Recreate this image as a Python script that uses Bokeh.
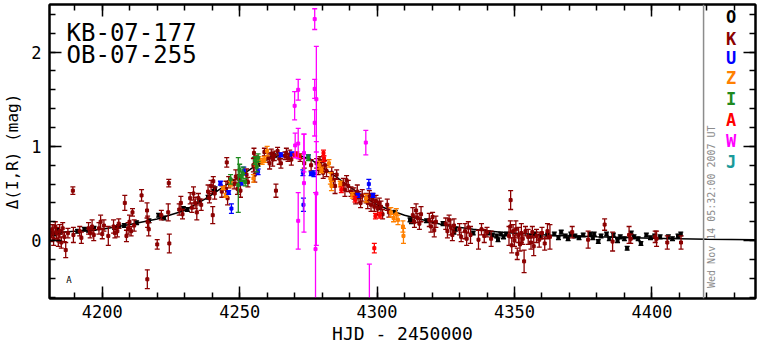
import math
from bokeh.plotting import figure
from bokeh.models import LinearAxis, SingleIntervalTicker, Span, Label, Range1d, CustomLabelingPolicy
from bokeh.core.properties import value
from bokeh.embed import file_html
from bokeh.resources import INLINE

# ---------------- data (HJD-2450000, delta mag, error) ----------------
model_t = [4181, 4190, 4200, 4210, 4220, 4230, 4238, 4245, 4250, 4255, 4260, 4264, 4268,
           4272, 4276, 4280, 4285, 4290, 4295, 4300, 4305, 4310, 4318, 4325, 4335, 4345,
           4355, 4365, 4380, 4400, 4420, 4438]
model_m = [0.08, 0.10, 0.12, 0.17, 0.23, 0.32, 0.45, 0.59, 0.68, 0.78, 0.86, 0.90, 0.915,
           0.90, 0.86, 0.78, 0.68, 0.57, 0.47, 0.38, 0.32, 0.27, 0.21, 0.16, 0.12, 0.09,
           0.07, 0.055, 0.04, 0.025, 0.015, 0.01]

k_t = [4181.2, 4181.8, 4182.3, 4182.9, 4183.4, 4184.0, 4184.5, 4185.1, 4185.6, 4186.2, 4186.7, 4187.5,
       4189.3, 4189.5, 4191.8, 4192.4, 4195.0, 4195.6, 4196.3, 4196.9, 4198.8, 4199.4, 4200.0, 4200.6,
       4202.2, 4204.1, 4204.6, 4205.5, 4206.0, 4208.2, 4208.8, 4209.4, 4209.9, 4210.5, 4211.0, 4211.6,
       4214.3, 4216.3, 4216.5, 4216.4, 4216.9, 4220.0, 4221.5, 4224.2, 4224.0, 4224.4, 4228.0, 4228.6,
       4229.2, 4232.0, 4232.6, 4233.2, 4233.8, 4234.4, 4235.0, 4236.0, 4238.5, 4239.0, 4239.6, 4240.2,
       4240.4, 4240.9, 4243.5, 4245.0, 4245.3, 4245.6, 4246.0, 4248.0, 4248.6, 4249.2, 4249.8, 4250.3,
       4252.5, 4253.0, 4255.0, 4255.2, 4255.5, 4256.0, 4259.0, 4260.3, 4260.9, 4261.5, 4262.0, 4262.6,
       4263.2, 4263.8, 4264.4, 4265.0, 4266.5, 4267.0, 4267.6, 4268.2, 4268.8, 4272.0, 4273.5, 4276.0,
       4278.0, 4278.6, 4279.2, 4279.8, 4280.4, 4281.0, 4281.6, 4283.5, 4284.1, 4284.7, 4285.3, 4287.7,
       4288.3, 4288.9, 4289.5, 4290.5, 4291.6, 4292.2, 4292.8, 4293.4, 4294.0, 4294.6, 4296.0, 4296.6,
       4297.2, 4297.8, 4298.4, 4299.0, 4299.6, 4300.2, 4300.8, 4301.4, 4302.0, 4303.7, 4304.3, 4313.0,
       4313.6, 4314.2, 4314.8, 4315.4, 4316.0, 4319.0, 4319.6, 4320.2, 4320.8, 4321.4, 4325.0, 4325.6,
       4326.2, 4326.8, 4327.4, 4328.0, 4330.0, 4330.6, 4332.0, 4332.6, 4333.2, 4334.0, 4336.9, 4338.0,
       4339.0, 4340.0, 4341.5, 4348.6, 4348.0, 4348.5, 4349.0, 4349.5, 4350.0, 4350.5, 4351.0, 4351.5,
       4352.0, 4352.5, 4353.0, 4353.5, 4354.0, 4355.0, 4356.0, 4356.5, 4357.0, 4358.0, 4359.0, 4360.0,
       4361.0, 4362.0, 4362.9, 4371.0, 4376.8, 4382.8, 4385.7, 4391.7, 4392.3, 4401.2, 4401.7, 4405.6,
       4410.6]
k_m = [0.05, 0.12, 0.02, 0.15, 0.08, 0.00, 0.10, -0.02, 0.13, 0.04, -0.10, 0.08,
       0.53, 0.06, 0.10, 0.03, 0.13, 0.08, 0.15, 0.06, 0.13, 0.20, 0.07, 0.16,
       0.05, 0.15, 0.08, 0.10, 0.18, 0.40, 0.05, 0.13, 0.20, 0.10, 0.30, 0.16,
       0.48, 0.32, 0.20, -0.41, 0.12, -0.04, 0.27, 0.61, 0.30, -0.03, 0.33, 0.40,
       0.28, 0.45, 0.35, 0.50, 0.40, 0.30, 0.45, 0.38, 0.52, 0.45, 0.58, 0.27,
       0.63, 0.50, 0.52, 0.55, 0.83, 0.45, 0.62, 0.60, 0.68, 0.55, 0.65, 0.53,
       0.70, 0.62, 0.80, 0.93, 0.70, 0.85, 0.94, 0.88, 0.82, 0.92, 0.86, 0.90,
       0.53, 0.95, 0.87, 0.82, 0.90, 0.93, 0.88, 0.91, 0.86, 0.88, 0.82, 0.80,
       0.82, 0.76, 0.85, 0.78, 0.72, 0.80, 0.74, 0.72, 0.64, 0.58, 0.70, 0.60,
       0.54, 0.64, 0.58, 0.52, 0.50, 0.44, 0.52, 0.46, 0.40, 0.48, 0.45, 0.40,
       0.48, 0.38, 0.44, 0.36, 0.42, 0.34, 0.40, 0.36, 0.28, 0.38, 0.30, 0.27,
       0.20, 0.32, 0.24, 0.18, 0.28, 0.22, 0.15, 0.25, 0.11, 0.20, 0.18, 0.10,
       0.22, 0.14, 0.06, 0.16, 0.12, 0.04, 0.10, 0.02, 0.14, 0.06, 0.01, 0.12,
       0.05, 0.09, 0.02, 0.43, 0.05, 0.15, -0.05, 0.10, 0.00, 0.12, -0.14, 0.06,
       -0.04, 0.08, 0.02, -0.22, 0.10, 0.04, -0.02, 0.09, -0.06, 0.05, 0.01, 0.08,
       -0.03, 0.10, 0.04, 0.09, 0.01, 0.17, -0.01, 0.06, 0.02, 0.04, 0.02, -0.02,
       -0.02]
k_e = [0.06, 0.05, 0.07, 0.05, 0.06, 0.06, 0.07, 0.06, 0.06, 0.05, 0.08, 0.05,
       0.04, 0.08, 0.05, 0.06, 0.06, 0.05, 0.07, 0.06, 0.06, 0.07, 0.05, 0.06,
       0.10, 0.07, 0.05, 0.06, 0.05, 0.08, 0.06, 0.06, 0.07, 0.05, 0.04, 0.06,
       0.06, 0.08, 0.06, 0.10, 0.07, 0.05, 0.05, 0.04, 0.09, 0.10, 0.06, 0.07,
       0.05, 0.06, 0.05, 0.07, 0.06, 0.08, 0.05, 0.06, 0.07, 0.05, 0.06, 0.09,
       0.05, 0.06, 0.06, 0.08, 0.05, 0.07, 0.06, 0.05, 0.07, 0.06, 0.05, 0.07,
       0.06, 0.05, 0.07, 0.05, 0.08, 0.05, 0.04, 0.05, 0.06, 0.05, 0.07, 0.05,
       0.07, 0.04, 0.06, 0.05, 0.04, 0.05, 0.04, 0.05, 0.06, 0.04, 0.05, 0.06,
       0.05, 0.06, 0.04, 0.05, 0.06, 0.05, 0.06, 0.06, 0.07, 0.08, 0.05, 0.06,
       0.07, 0.05, 0.06, 0.05, 0.06, 0.05, 0.07, 0.06, 0.05, 0.06, 0.05, 0.06,
       0.05, 0.07, 0.06, 0.05, 0.06, 0.07, 0.05, 0.06, 0.05, 0.06, 0.05, 0.08,
       0.06, 0.07, 0.05, 0.06, 0.08, 0.07, 0.06, 0.05, 0.07, 0.06, 0.06, 0.07,
       0.05, 0.08, 0.06, 0.07, 0.06, 0.05, 0.08, 0.07, 0.06, 0.09, 0.10, 0.06,
       0.07, 0.05, 0.08, 0.10, 0.10, 0.06, 0.08, 0.07, 0.06, 0.09, 0.06, 0.08,
       0.07, 0.10, 0.06, 0.12, 0.05, 0.08, 0.07, 0.06, 0.10, 0.07, 0.08, 0.06,
       0.07, 0.08, 0.13, 0.06, 0.09, 0.06, 0.10, 0.09, 0.05, 0.06, 0.08, 0.07,
       0.07]

o_t = [4181.5, 4182.5, 4183.5, 4184.5, 4191.0, 4193.5, 4195.0, 4197.0, 4204.5, 4206.0, 4208.0, 4212.5,
       4217.0, 4220.5, 4222.5, 4229.5, 4231.0, 4235.3, 4238.5, 4240.6, 4241.0, 4256.7, 4262.0, 4262.6,
       4301.0, 4306.6, 4312.0, 4312.5, 4318.0, 4324.0, 4328.0, 4328.5, 4335.0, 4340.5, 4342.0, 4343.5,
       4344.0, 4345.0, 4346.0, 4347.0, 4355.5, 4357.5, 4359.5, 4362.0, 4364.5, 4366.0, 4367.0, 4368.5,
       4369.5, 4370.5, 4372.0, 4373.5, 4375.0, 4377.5, 4378.5, 4379.0, 4380.5, 4381.5, 4383.5, 4384.5,
       4386.0, 4387.5, 4388.5, 4390.0, 4391.0, 4392.5, 4393.5, 4395.0, 4396.0, 4398.0, 4399.5, 4401.0,
       4403.0, 4406.0, 4407.5, 4409.5, 4410.5]
o_m = [0.10, 0.07, 0.11, 0.09, 0.10, 0.12, 0.11, 0.13, 0.14, 0.15, 0.16, 0.19,
       0.21, 0.27, 0.24, 0.34, 0.33, 0.42, 0.46, 0.52, 0.55, 0.81, 0.91, 0.90,
       0.35, 0.30, 0.22, 0.20, 0.21, 0.18, 0.09, 0.12, 0.08, 0.08, 0.06, 0.05,
       0.01, 0.07, 0.04, 0.07, 0.05, 0.07, 0.04, 0.06, 0.07, 0.03, 0.09, 0.05,
       0.02, 0.07, 0.05, 0.03, 0.06, 0.07, 0.03, 0.07, -0.01, 0.05, 0.07, 0.02,
       0.06, 0.00, 0.04, 0.02, -0.08, 0.08, 0.04, 0.02, -0.03, 0.06, 0.03, 0.05,
       0.04, 0.04, 0.02, 0.05, 0.07]
o_e = [0.02] * len(o_t)

u_t = [4243.0, 4246.0, 4247.0, 4250.6, 4251.5, 4256.7, 4265.0, 4269.0, 4273.0, 4273.2, 4275.0, 4276.0,
       4277.0, 4293.0, 4297.0, 4298.5]
u_m = [0.61, 0.51, 0.34, 0.61, 0.74, 0.73, 0.91, 0.92, 0.72, 0.38, 0.89, 0.71,
       0.71, 0.48, 0.60, 0.48]
u_e = [0.02, 0.02, 0.05, 0.02, 0.04, 0.03, 0.02, 0.02, 0.03, 0.07, 0.02, 0.02,
       0.03, 0.02, 0.05, 0.02]

z_t = [4244.0, 4245.0, 4246.7, 4255.0, 4256.0, 4257.0, 4258.2, 4259.0, 4260.0, 4279.0, 4279.8, 4282.5,
       4283.0, 4283.4, 4286.6, 4291.0, 4296.0, 4305.0, 4306.0, 4307.0, 4307.6, 4309.4, 4309.6]
z_m = [0.56, 0.48, 0.60, 0.66, 0.82, 0.86, 0.84, 0.86, 0.95, 0.80, 0.75, 0.82,
       0.66, 0.58, 0.60, 0.48, 0.45, 0.30, 0.24, 0.28, 0.22, 0.15, 0.05]
z_e = [0.02, 0.02, 0.03, 0.04, 0.03, 0.03, 0.03, 0.03, 0.05, 0.04, 0.03, 0.04,
       0.06, 0.05, 0.03, 0.03, 0.04, 0.05, 0.04, 0.06, 0.05, 0.06, 0.08]

i_t = [4246.7, 4249.5, 4250.0, 4250.6, 4251.2, 4252.0, 4255.6, 4256.2, 4256.7, 4275.0]
i_m = [0.65, 0.59, 0.75, 0.68, 0.71, 0.62, 0.85, 0.78, 0.88, 0.88]
i_e = [0.05, 0.29, 0.06, 0.05, 0.07, 0.04, 0.04, 0.05, 0.04, 0.03]

a_t = [4270.0, 4270.8, 4271.6, 4280.5, 4280.7, 4287.0, 4292.0, 4299.0, 4299.4, 4301.0]
a_m = [0.90, 0.92, 0.89, 0.93, 0.87, 0.54, 0.44, -0.08, 0.26, 0.27]
a_e = [0.02, 0.02, 0.02, 0.03, 0.03, 0.03, 0.03, 0.05, 0.03, 0.03]

w_t = [4277.3, 4277.9, 4271.3, 4270.0, 4277.3, 4277.3, 4270.2, 4271.3, 4273.4, 4295.9,
       4273.4, 4271.3, 4277.6, 4277.9, 4297.2]
w_m = [2.35, 1.50, 1.60, 1.43, 1.61, 1.25, 1.01, 1.03, 0.93, 1.04,
       0.61, 0.21, -0.09, 0.50, -0.70]
w_e = [0.11, 0.56, 0.11, 0.15, 0.10, 0.14, 0.13, 0.16, 0.20, 0.13,
       0.52, 0.30, 0.60, 0.55, 0.45]

legend_codes = ["O", "K", "U", "Z", "I", "A", "W", "J"]
legend_colors = ["#000000", "#8b0000", "#0000ff", "#ff8000", "#1f8a1f", "#ff0000", "#ff00ff", "#1a9a9a"]

FONT = "DejaVu Sans Mono"

# ---------------- figure ----------------
p = figure(width=759, height=346, output_backend="svg", toolbar_location=None,
           x_range=Range1d(4180.8, 4437.7), y_range=Range1d(-0.614, 2.505),
           min_border_left=44, min_border_right=1, min_border_top=1, min_border_bottom=40)
p.grid.visible = False
p.outline_line_color = "black"
p.outline_line_width = 2
p.background_fill_color = "white"
p.border_fill_color = "white"

for ax in p.xaxis:
    ax.ticker = SingleIntervalTicker(interval=50, num_minor_ticks=5)
for ax in p.yaxis:
    ax.ticker = SingleIntervalTicker(interval=1, num_minor_ticks=5)

hide_all = CustomLabelingPolicy(code="""
    const all = [...indices]
    for (const i of all) indices.unset(i)
    return indices
""")

def style_axis(ax, show_labels=True):
    ax.axis_line_width = 2
    ax.axis_line_color = "black"
    ax.major_tick_in = 12
    ax.major_tick_out = 0
    ax.minor_tick_in = 6
    ax.minor_tick_out = 0
    ax.major_tick_line_width = 1.5
    ax.minor_tick_line_width = 1.5
    ax.major_label_text_font = FONT
    ax.major_label_text_color = "black"
    ax.axis_label_text_font = FONT
    ax.axis_label_text_font_style = "normal"
    ax.axis_label_text_color = "black"
    if not show_labels:
        ax.major_label_policy = hide_all
        ax.major_label_text_font_size = "1px"
        ax.major_label_standoff = 0

style_axis(p.xaxis[0])
style_axis(p.yaxis[0])
p.xaxis[0].major_label_text_font_size = "17px"
p.xaxis[0].major_label_standoff = 6
p.xaxis[0].axis_label = "HJD - 2450000"
p.xaxis[0].axis_label_text_font_size = "18px"
p.xaxis[0].axis_label_standoff = 2
p.yaxis[0].major_label_text_font_size = "17px"
p.yaxis[0].major_label_standoff = 8
p.yaxis[0].major_label_orientation = "horizontal"
p.yaxis[0].axis_label = "Δ(I,R) (mag)"
p.yaxis[0].axis_label_text_font_size = "16px"
p.yaxis[0].axis_label_standoff = 6

top = LinearAxis(ticker=SingleIntervalTicker(interval=50, num_minor_ticks=5))
style_axis(top, show_labels=False)
p.add_layout(top, "above")
right = LinearAxis(ticker=SingleIntervalTicker(interval=1, num_minor_ticks=5))
style_axis(right, show_labels=False)
p.add_layout(right, "right")

# model curve
p.line(model_t, model_m, line_color="black", line_width=1.5)

def errpoints(t, m, e, color):
    lo = [mi - ei for mi, ei in zip(m, e)]
    hi = [mi + ei for mi, ei in zip(m, e)]
    p.segment(x0=t, y0=lo, x1=t, y1=hi, line_color=color, line_width=1.3)
    p.dash(x=t, y=lo, size=5, line_color=color, line_width=1.3)
    p.dash(x=t, y=hi, size=5, line_color=color, line_width=1.3)
    p.scatter(x=t, y=m, marker="square", size=3, fill_color=color, line_color=color)

errpoints(o_t, o_m, o_e, legend_colors[0])
errpoints(k_t, k_m, k_e, legend_colors[1])
errpoints(z_t, z_m, z_e, legend_colors[3])
errpoints(u_t, u_m, u_e, legend_colors[2])
errpoints(i_t, i_m, i_e, legend_colors[4])
errpoints(a_t, a_m, a_e, legend_colors[5])
errpoints(w_t, w_m, w_e, legend_colors[6])

# date line and stamp
p.add_layout(Span(location=4418.8, dimension="height", line_color="#8c8c8c", line_width=1.5))
p.add_layout(Label(x=4421.6, y=0.36, text="Wed Nov 14 05:32:00 2007 UT", angle=math.pi / 2,
                   text_align="center", text_baseline="middle", text_font=FONT,
                   text_font_size="10px", text_color="#8c8c8c"))

# legend letters
leg_y = [2.37, 2.14, 1.94, 1.72, 1.50, 1.28, 1.06, 0.83]
p.text(x=[4428.8] * len(legend_codes), y=leg_y, text=legend_codes,
       text_color=legend_colors, text_font=value(FONT), text_font_size="17px",
       text_font_style="bold", text_align="center", text_baseline="middle")

# event names
p.text(x=[4187.0, 4187.0], y=[2.20, 1.97], text=["KB-07-177", "OB-07-255"],
       text_color="black", text_font=value(FONT), text_font_size="24px",
       text_align="left", text_baseline="alphabetic")

# small marks
p.text(x=[4187.9], y=[-0.42], text=["A"], text_color="black", text_font=value(FONT),
       text_font_size="9px", text_align="center", text_baseline="middle")
p.add_layout(Label(x=4273.1, y=-7, y_units="screen", text="*", text_color="#ff00ff",
                   text_font=FONT, text_font_size="12px", text_align="center",
                   text_baseline="middle", level="overlay"))

open("out.html", "w").write(file_html(p, INLINE))
